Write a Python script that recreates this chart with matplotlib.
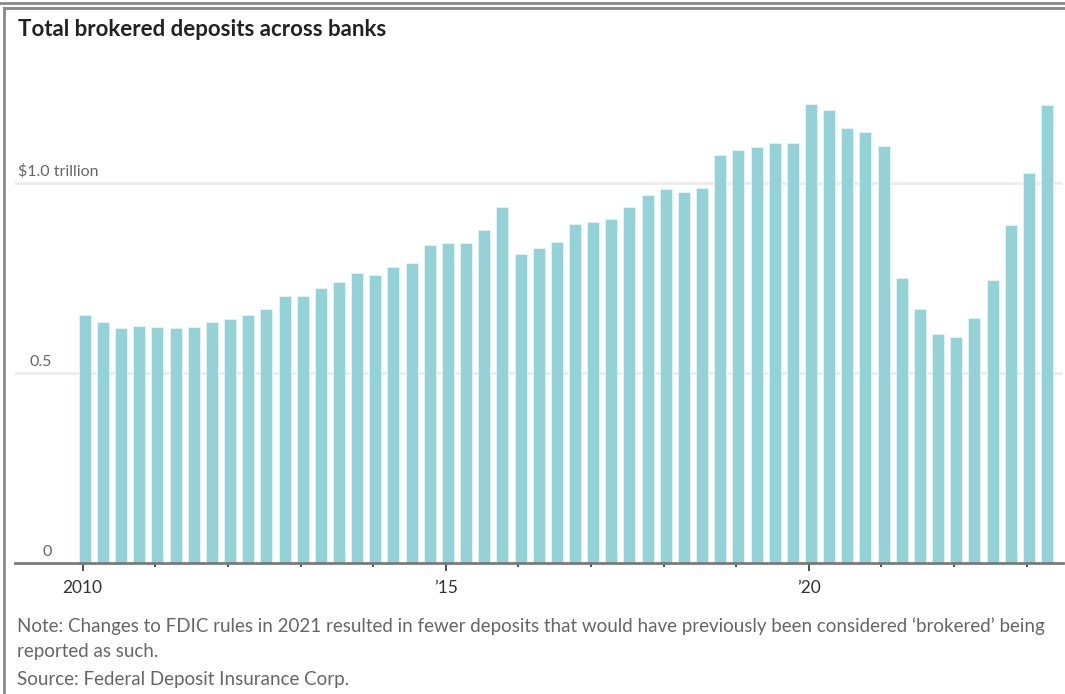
import numpy as np
import matplotlib
matplotlib.use("Agg")
import matplotlib.pyplot as plt
from matplotlib.lines import Line2D

# Quarterly totals, trillions of dollars, first bar = end of 2009
first_year = 2010
deposits = [
    0.653, 0.634, 0.618, 0.625, 0.622, 0.618, 0.622, 0.634, 0.642, 0.653,
    0.669, 0.704, 0.704, 0.724, 0.740, 0.764, 0.760, 0.779, 0.791, 0.838,
    0.842, 0.842, 0.878, 0.937, 0.815, 0.831, 0.846, 0.894, 0.897, 0.905,
    0.937, 0.968, 0.984, 0.976, 0.988, 1.075, 1.087, 1.095, 1.107, 1.107,
    1.209, 1.193, 1.146, 1.134, 1.099, 0.752, 0.669, 0.603, 0.595, 0.646,
    0.745, 0.889, 1.028, 1.205,
]
major_years = [2010, 2015, 2020]
major_labels = ["2010", "\u201915", "\u201920"]
minor_years = list(range(2010, 2024))
y_ticks = [0, 0.5, 1.0]
y_labels = ["0", "0.5", "$1.0 trillion"]

title = "Total brokered deposits across banks"
note = ("Note: Changes to FDIC rules in 2021 resulted in fewer deposits that would have "
        "previously been considered \u2018brokered\u2019 being\nreported as such.")
source = "Source: Federal Deposit Insurance Corp."

BAR = "#93d3d8"
GRID = "#ececec"
AXIS = "#7a7a7a"
GREY_TXT = "#666666"
DARK_TXT = "#333333"

plt.rcParams["font.family"] = ["Lato", "DejaVu Sans"]

W, H = 1065, 694
fig = plt.figure(figsize=(W / 100, H / 100), dpi=100)

# plot area in pixels: x 15..1063, y (from top) 69..563
ax_l, ax_r, ax_t, ax_b = 15, 1063, 69.3, 563.3
ax = fig.add_axes([ax_l / W, 1 - ax_b / H, (ax_r - ax_l) / W, (ax_b - ax_t) / H])

x = first_year + 0.03 + 0.25 * np.arange(len(deposits))
ax.bar(x, deposits, width=0.165, color=BAR, edgecolor="#e6f5f6", linewidth=0.6, zorder=2)

ax.set_xlim(2009.068, 2023.5)
ax.set_ylim(0, 1.3)

for v in y_ticks[1:]:
    ax.axhline(v, color=GRID, lw=2, zorder=1)

for s in ["top", "right", "left"]:
    ax.spines[s].set_visible(False)
ax.spines["bottom"].set_color(AXIS)
ax.spines["bottom"].set_linewidth(2)
ax.spines["bottom"].set_zorder(3)

ax.set_yticks([])
ax.set_xticks(major_years)
ax.set_xticklabels(major_labels, fontsize=12.5, color=DARK_TXT)
ax.set_xticks(minor_years, minor=True)
ax.tick_params(axis="x", which="major", length=6, width=1.2, color="#333333", pad=6)
ax.tick_params(axis="x", which="minor", length=3, width=1.2, color="#333333")

# y labels sit just above their gridlines
ytr = ax.get_yaxis_transform()
for v, lab in zip(y_ticks, y_labels):
    if lab.startswith("$"):
        ax.text(3 / (ax_r - ax_l), v + 0.012, lab, transform=ytr, ha="left", va="bottom",
                fontsize=11.5, color=GREY_TXT)
    else:
        ax.text(37 / (ax_r - ax_l), v + 0.012, lab, transform=ytr, ha="right", va="bottom",
                fontsize=11.5, color=GREY_TXT)

fig.text(18 / W, 1 - 30 / H, title, ha="left", va="center", fontsize=16,
         fontweight="bold", color="#222222")
fig.text(17 / W, 1 - 617 / H, note, ha="left", va="top", fontsize=13.5,
         color=GREY_TXT, linespacing=1.55)
fig.text(17 / W, 1 - 679 / H, source, ha="left", va="center", fontsize=13.5,
         color=GREY_TXT)

# frame lines around the graphic
fig.add_artist(Line2D([0, 1], [1 - 2.5 / H, 1 - 2.5 / H], color="#8a8a8a", lw=2))
fig.add_artist(Line2D([4.5 / W, 1], [1 - 7.5 / H, 1 - 7.5 / H], color="#8a8a8a", lw=2))
fig.add_artist(Line2D([4.5 / W, 4.5 / W], [0, 1 - 7.5 / H], color="#8a8a8a", lw=2))

fig.savefig("out.png", dpi=100, facecolor="white")
